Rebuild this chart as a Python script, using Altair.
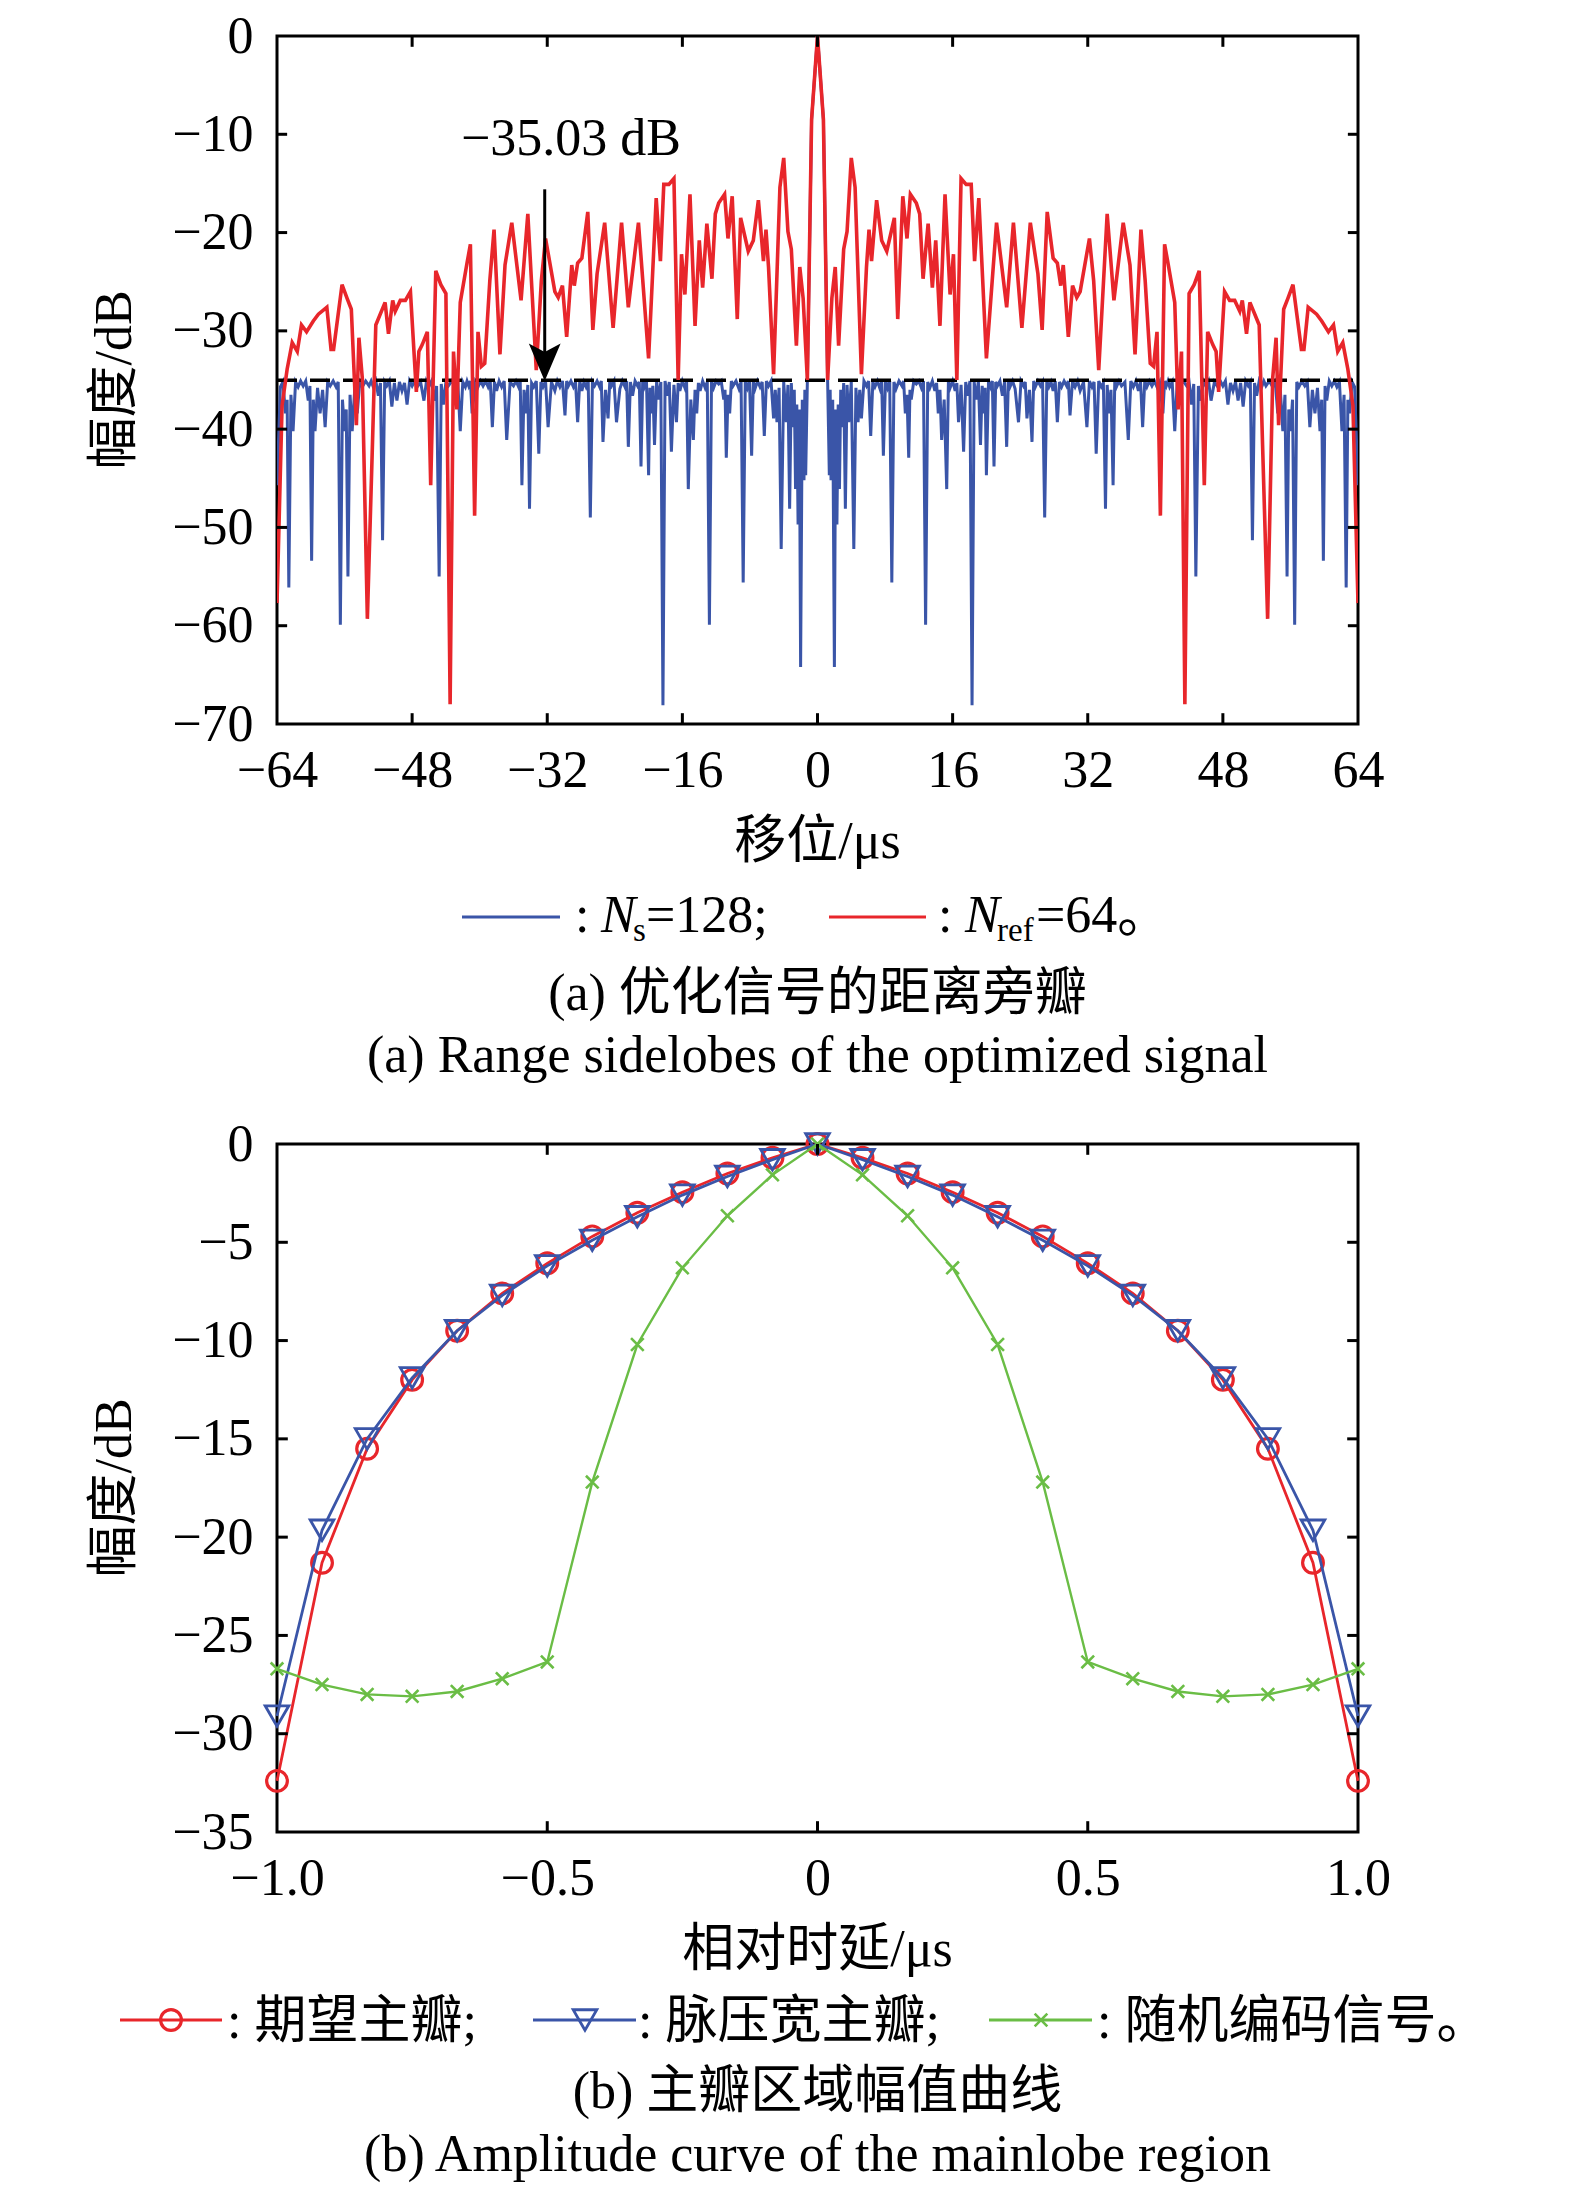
import altair as alt
import pandas as pd

# ---------------- data ----------------
# (a) range sidelobes, right half (symmetric autocorrelation), shift in us, amplitude in dB
red_x = [0, 0.7, 1.2, 1.7, 2.1, 2.5, 3.1, 3.5, 4.0, 4.45,
         5.2, 5.8, 6.1, 6.4, 7.0, 7.6, 8.2, 8.6, 9.1, 9.5,
         10.1, 10.6, 11.0, 11.7, 12.1, 12.5, 13.1, 13.6, 14.0, 14.5,
         15.1, 15.7, 16.1, 16.5, 17.0, 17.6, 18.2, 18.6, 19.1, 20.0,
         21.2, 22.4, 23.2, 24.2, 25.2, 26.1, 26.6, 27.2, 27.9, 28.4,
         28.8, 29.1, 29.7, 30.2, 30.7, 31.1, 32.2, 32.7, 33.3, 34.3,
         35.1, 36.2, 37.0, 37.6, 38.3, 38.8, 39.4, 39.8, 40.2, 40.6,
         41.1, 41.5, 42.3, 42.7, 43.1, 43.5, 44.0, 44.6, 45.2, 45.8,
         46.2, 46.8, 47.2, 47.5, 48.2, 48.8, 49.4, 50.0, 50.3, 50.8,
         51.2, 52.3, 52.7, 53.3, 53.9, 54.3, 54.6, 55.2, 55.7, 56.3,
         57.3, 57.6, 58.1, 59.1, 59.7, 60.5, 61.1, 61.6, 62.2, 62.8,
         63.4, 64.0]
red_y = [0, -8.5, -35.0, -26.7, -23.5, -31.5, -21.7, -19.9, -12.4, -15.4,
         -34.4, -23.5, -19.7, -22.9, -16.7, -20.8, -21.9, -20.4, -18.5, -28.8,
         -16.3, -20.6, -16.1, -17.0, -18.1, -24.7, -19.1, -25.6, -20.8, -29.5,
         -16.1, -26.3, -22.2, -35.0, -14.5, -15.1, -15.1, -22.9, -16.5, -32.8,
         -19.0, -27.6, -19.0, -29.7, -19.0, -24.2, -29.9, -17.9, -22.6, -23.1,
         -25.4, -23.3, -30.6, -25.4, -26.6, -26.0, -20.6, -24.9, -34.0, -18.1,
         -26.9, -19.0, -23.3, -32.4, -19.7, -24.9, -33.3, -33.6, -30.1, -48.8,
         -21.2, -23.1, -27.1, -38.0, -32.1, -68.0, -26.2, -25.3, -23.9, -45.7,
         -30.1, -31.4, -32.1, -36.2, -26.0, -26.9, -26.9, -28.0, -26.9, -30.3,
         -27.1, -29.4, -41.6, -59.3, -34.8, -30.7, -39.6, -27.8, -26.7, -25.3,
         -31.9, -31.9, -27.6, -28.3, -29.0, -30.1, -29.4, -32.1, -31.2, -33.9,
         -37.6, -57.7]

blue_x = [0, 0.7, 1.2, 1.4, 1.5, 1.6, 1.8, 2.0, 2.15, 2.3,
          2.45, 2.6, 2.75, 2.9, 3.1, 3.3, 3.5, 3.7, 4.0, 4.3,
          4.55, 4.8, 5.0, 5.2, 5.5, 5.8, 6.05, 6.3, 6.55, 6.8,
          7.1, 7.4, 7.6, 7.8, 8.05, 8.3, 8.55, 8.8, 9.05, 9.3,
          9.65, 10.0, 10.2, 10.4, 10.6, 10.8, 10.95, 11.1, 11.4, 11.7,
          12.0, 12.3, 12.55, 12.8, 13.05, 13.3, 13.6, 13.9, 14.1, 14.3,
          14.5, 14.7, 15.0, 15.3, 15.5, 15.7, 16.0, 16.3, 16.5, 16.7,
          17.0, 17.3, 17.55, 17.8, 18.05, 18.3, 18.55, 18.8, 19.05, 19.3,
          19.5, 19.7, 19.85, 20.0, 20.25, 20.5, 20.7, 20.9, 21.1, 21.3,
          21.6, 21.9, 22.15, 22.4, 22.6, 22.8, 23.1, 23.4, 23.8, 24.1,
          24.4, 24.6, 24.8, 25.1, 25.4, 25.6, 25.8, 26.1, 26.4, 26.65,
          26.9, 27.15, 27.4, 27.65, 27.9, 28.15, 28.4, 28.65, 28.9, 29.2,
          29.5, 29.7, 29.9, 30.2, 30.5, 30.8, 31.1, 31.5, 31.9, 32.2,
          32.5, 32.75, 33.0, 33.3, 33.6, 33.85, 34.1, 34.3, 34.5, 34.75,
          35.0, 35.2, 35.4, 35.7, 36.0, 36.4, 36.8, 37.1, 37.4, 37.7,
          38.0, 38.25, 38.5, 38.75, 39.0, 39.3, 39.6, 39.9, 40.2, 40.5,
          40.9, 41.1, 41.3, 41.5, 41.7, 42.0, 42.3, 42.6, 42.9, 43.3,
          43.7, 44.0, 44.3, 44.55, 44.8, 45.1, 45.4, 45.7, 46.0, 46.3,
          46.6, 47.0, 47.4, 47.7, 48.0, 48.3, 48.6, 48.9, 49.2, 49.5,
          49.8, 50.1, 50.4, 50.7, 51.0, 51.25, 51.5, 51.75, 52.0, 52.3,
          52.6, 52.85, 53.1, 53.5, 53.9, 54.2, 54.5, 54.8, 55.1, 55.35,
          55.6, 55.8, 56.0, 56.25, 56.5, 56.75, 57.0, 57.35, 57.7, 58.0,
          58.3, 58.6, 58.9, 59.2, 59.5, 59.7, 59.9, 60.1, 60.3, 60.6,
          60.9, 61.2, 61.5, 61.8, 62.1, 62.35, 62.6, 62.8, 63.0, 63.3,
          63.6, 64.0]
blue_y = [0, -8.5, -35.1, -44.7, -36.0, -45.2, -37.0, -64.2, -38.0, -49.7,
          -37.5, -46.1, -36.0, -39.8, -35.3, -48.1, -35.5, -39.3, -35.2, -52.2,
          -35.8, -39.3, -36.0, -38.9, -35.1, -35.6, -35.1, -40.7, -35.2, -35.7,
          -35.1, -35.9, -35.2, -42.7, -35.1, -35.8, -35.1, -55.6, -35.2, -35.9,
          -35.1, -35.6, -35.1, -38.4, -36.5, -42.9, -36.0, -37.0, -35.1, -35.4,
          -35.1, -35.8, -35.1, -59.9, -35.2, -35.8, -35.1, -36.1, -35.3, -38.4,
          -36.0, -41.1, -37.0, -46.1, -35.2, -35.8, -35.1, -36.1, -35.3, -39.3,
          -35.5, -42.3, -35.2, -36.6, -35.1, -68.1, -35.2, -37.0, -35.1, -41.6,
          -35.6, -38.4, -35.8, -44.7, -35.1, -35.7, -35.1, -43.8, -35.2, -35.6,
          -35.1, -36.6, -35.2, -41.8, -35.1, -35.7, -35.1, -35.9, -39.3, -35.1,
          -35.6, -35.2, -38.9, -36.0, -41.3, -35.1, -35.7, -35.1, -35.6, -35.2,
          -49.0, -35.1, -35.7, -35.2, -36.1, -35.1, -39.3, -35.2, -35.7, -35.1,
          -35.6, -35.1, -38.6, -35.1, -35.7, -35.1, -36.1, -35.2, -39.8, -35.1,
          -35.7, -35.2, -42.5, -35.1, -35.7, -35.3, -48.1, -35.5, -38.4, -36.0,
          -45.7, -35.1, -35.7, -35.1, -35.6, -35.2, -41.1, -35.1, -35.7, -35.1,
          -36.1, -35.2, -39.8, -35.1, -35.7, -35.1, -35.6, -35.1, -35.7, -35.2,
          -38.4, -35.1, -35.6, -35.1, -35.7, -35.2, -40.2, -35.1, -35.7, -35.1,
          -35.6, -35.2, -37.5, -35.4, -55.0, -35.6, -37.1, -35.1, -35.6, -35.1,
          -37.1, -35.2, -35.7, -35.1, -35.6, -35.1, -37.5, -35.3, -36.1, -35.2,
          -37.1, -35.3, -37.7, -35.1, -35.6, -35.2, -51.3, -35.3, -36.6, -35.1,
          -35.7, -35.1, -35.6, -35.1, -35.7, -35.2, -38.4, -36.0, -40.2, -36.5,
          -55.0, -38.0, -40.2, -37.0, -59.9, -35.2, -35.7, -35.1, -35.6, -35.2,
          -39.8, -36.0, -38.4, -35.8, -40.2, -37.0, -53.4, -35.6, -37.1, -35.1,
          -35.6, -35.1, -35.7, -35.2, -40.2, -36.5, -56.1, -37.0, -38.4, -35.2,
          -35.7, -45.7]

psl_db = -35.03
x_ticks_a = [-64, -48, -32, -16, 0, 16, 32, 48, 64]
y_ticks_a = [0, -10, -20, -30, -40, -50, -60, -70]

# (b) mainlobe region, left half (symmetric)
b_x_half = [-1.0, -0.9167, -0.8333, -0.75, -0.6667, -0.5833, -0.5,
            -0.4167, -0.3333, -0.25, -0.1667, -0.0833, 0.0]
want_half = [-32.4, -21.3, -15.5, -12.0, -9.5, -7.6, -6.07, -4.7, -3.5, -2.45, -1.5, -0.7, 0.0]
pc_half = [-29.1, -19.65, -15.0, -11.9, -9.5, -7.7, -6.2, -4.9, -3.7, -2.6, -1.65, -0.8, 0.0]
rand_half = [-26.7, -27.5, -28.0, -28.1, -27.85, -27.2, -26.35, -17.2, -10.2, -6.3, -3.65, -1.57, 0.0]
x_ticks_b = [-1.0, -0.5, 0.0, 0.5, 1.0]
y_ticks_b = [0, -5, -10, -15, -20, -25, -30, -35]


def mirror(xs, ys):
    fx = [-v for v in reversed(xs[1:])] + list(xs)
    fy = list(reversed(ys[1:])) + list(ys)
    return fx, fy


def mirror_left(xs, ys):
    fx = list(xs) + [-v for v in reversed(xs[:-1])]
    fy = list(ys) + list(reversed(ys[:-1]))
    return fx, fy


rx, ry = mirror(red_x, red_y)
bx, by = mirror(blue_x, blue_y)
df_red = pd.DataFrame({"x": rx, "y": ry})
df_blue = pd.DataFrame({"x": bx, "y": by})

bxx, wy = mirror_left(b_x_half, want_half)
_, py = mirror_left(b_x_half, pc_half)
_, gy = mirror_left(b_x_half, rand_half)
df_want = pd.DataFrame({"x": bxx, "y": wy})
df_pc = pd.DataFrame({"x": bxx, "y": py})
df_rand = pd.DataFrame({"x": bxx, "y": gy})

# ---------------- style ----------------
W, H = 1081, 688
FONT = "Liberation Serif, Noto Sans CJK SC"
FS = 52
RED = "#E8262B"
BLUE = "#3A55A8"
GREEN = "#6ABD45"
one = pd.DataFrame({"k": [0]})


def T(text, x, y, size=FS, align="center", baseline="middle", style="normal", angle=0):
    return alt.Chart(one).mark_text(
        text=text, fontSize=size, align=align, baseline=baseline,
        fontStyle=style, angle=angle, font=FONT, color="black"
    ).encode(x=alt.value(x), y=alt.value(y))


def hline(x1, x2, y, color):
    return alt.Chart(one).mark_rule(color=color, strokeWidth=3).encode(
        x=alt.value(x1), x2=alt.value(x2), y=alt.value(y))


def inner_ticks(xs_t, ys_t, xdom, ydom, lx, ly):
    xt = [v for v in xs_t if xdom[0] < v < xdom[1]]
    yt = [v for v in ys_t if ydom[0] < v < ydom[1]]
    sx = alt.Scale(domain=xdom, nice=False, zero=False)
    sy = alt.Scale(domain=ydom, nice=False, zero=False)
    d_b = pd.DataFrame({"x": xt, "y": [ydom[0]] * len(xt), "y2": [ydom[0] + ly] * len(xt)})
    d_t = pd.DataFrame({"x": xt, "y": [ydom[1]] * len(xt), "y2": [ydom[1] - ly] * len(xt)})
    d_l = pd.DataFrame({"y": yt, "x": [xdom[0]] * len(yt), "x2": [xdom[0] + lx] * len(yt)})
    d_r = pd.DataFrame({"y": yt, "x": [xdom[1]] * len(yt), "x2": [xdom[1] - lx] * len(yt)})
    layers = []
    for d in (d_b, d_t):
        layers.append(alt.Chart(d).mark_rule(color="black", strokeWidth=3).encode(
            x=alt.X("x:Q", scale=sx), y=alt.Y("y:Q", scale=sy), y2="y2:Q"))
    for d in (d_l, d_r):
        layers.append(alt.Chart(d).mark_rule(color="black", strokeWidth=3).encode(
            y=alt.Y("y:Q", scale=sy), x=alt.X("x:Q", scale=sx), x2="x2:Q"))
    return layers


def axis_x(vals, expr=None):
    kw = dict(values=vals, title=None, labelPadding=21)
    if expr:
        kw["labelExpr"] = expr
    return alt.Axis(**kw)


def axis_y(vals):
    return alt.Axis(values=vals, title=None, labelPadding=24)


# ---------------- (a) ----------------
xa = alt.Scale(domain=[-64, 64], nice=False, zero=False)
ya = alt.Scale(domain=[-70, 0], nice=False, zero=False)

blue_line = alt.Chart(df_blue).mark_line(color=BLUE, strokeWidth=3.0, clip=True).encode(
    x=alt.X("x:Q", scale=xa, axis=axis_x(x_ticks_a)),
    y=alt.Y("y:Q", scale=ya, axis=axis_y(y_ticks_a)),
    order="x:Q")
red_line = alt.Chart(df_red).mark_line(color=RED, strokeWidth=3.6, clip=True).encode(
    x=alt.X("x:Q", scale=xa), y=alt.Y("y:Q", scale=ya), order="x:Q")
dash = alt.Chart(pd.DataFrame({"x": [-64], "x2": [64], "y": [psl_db]})).mark_rule(
    color="black", strokeWidth=3.5, strokeDash=[20, 13]).encode(
    x=alt.X("x:Q", scale=xa), x2="x2:Q", y=alt.Y("y:Q", scale=ya))
arrow_shaft = alt.Chart(pd.DataFrame({"x": [-32.3], "y": [-15.6], "y2": [-33.0]})).mark_rule(
    color="black", strokeWidth=3).encode(
    x=alt.X("x:Q", scale=xa), y=alt.Y("y:Q", scale=ya), y2="y2:Q")
arrow_head = alt.Chart(pd.DataFrame({"x": [-32.3], "y": [-33.2]})).mark_point(
    shape="M-0.85,-1L0,-0.55L0.85,-1L0,1Z", filled=True, color="black", opacity=1, size=1400).encode(
    x=alt.X("x:Q", scale=xa), y=alt.Y("y:Q", scale=ya))
ann = alt.Chart(pd.DataFrame({"x": [-29.2], "y": [-10.5], "t": ["\u221235.03 dB"]})).mark_text(
    font=FONT, fontSize=FS, color="black", baseline="middle", align="center").encode(
    x=alt.X("x:Q", scale=xa), y=alt.Y("y:Q", scale=ya), text="t:N")

ticks_a = inner_ticks(x_ticks_a, y_ticks_a, [-64, 64], [-70, 0], 1.2, 1.1)

texts_a = [
    T("幅度/dB", -162, H / 2, angle=270),
    T("移位/μs", W / 2, 806),
    hline(185, 283, 881, BLUE),
    T(":", 298, 896, align="left", baseline="alphabetic"),
    T("N", 324, 896, align="left", baseline="alphabetic", style="italic"),
    T("s", 356, 905, size=33, align="left", baseline="alphabetic"),
    T("=128;", 369, 896, align="left", baseline="alphabetic"),
    hline(552, 649, 881, RED),
    T(":", 661, 896, align="left", baseline="alphabetic"),
    T("N", 688, 896, align="left", baseline="alphabetic", style="italic"),
    T("ref", 720, 905, size=33, align="left", baseline="alphabetic"),
    T("=64。", 759, 896, align="left", baseline="alphabetic"),
    T("(a) 优化信号的距离旁瓣", W / 2, 958),
    T("(a) Range sidelobes of the optimized signal", W / 2, 1020),
]

chart_a = alt.layer(blue_line, dash, red_line, arrow_shaft, arrow_head, ann,
                    *ticks_a, *texts_a).properties(width=W, height=H)

# ---------------- (b) ----------------
xb = alt.Scale(domain=[-1, 1], nice=False, zero=False)
yb = alt.Scale(domain=[-35, 0], nice=False, zero=False)
x_expr = "datum.value == 0 ? '0' : format(datum.value, '.1f')"

CROSS = "M-1,-1L1,1M-1,1L1,-1"

want_line = alt.Chart(df_want).mark_line(color=RED, strokeWidth=2.8).encode(
    x=alt.X("x:Q", scale=xb, axis=axis_x(x_ticks_b, x_expr)),
    y=alt.Y("y:Q", scale=yb, axis=axis_y(y_ticks_b)), order="x:Q")
want_pts = alt.Chart(df_want).mark_point(shape="circle", filled=False, color=RED,
                                          strokeWidth=3.2, size=430, opacity=1).encode(
    x=alt.X("x:Q", scale=xb), y=alt.Y("y:Q", scale=yb))
pc_line = alt.Chart(df_pc).mark_line(color=BLUE, strokeWidth=2.8).encode(
    x=alt.X("x:Q", scale=xb), y=alt.Y("y:Q", scale=yb), order="x:Q")
pc_pts = alt.Chart(df_pc).mark_point(shape="triangle-down", filled=False, color=BLUE,
                                      strokeWidth=2.8, size=560, opacity=1).encode(
    x=alt.X("x:Q", scale=xb), y=alt.Y("y:Q", scale=yb))
rand_line = alt.Chart(df_rand).mark_line(color=GREEN, strokeWidth=2.4).encode(
    x=alt.X("x:Q", scale=xb), y=alt.Y("y:Q", scale=yb), order="x:Q")
rand_pts = alt.Chart(df_rand).mark_point(shape=CROSS, filled=False, color=GREEN,
                                          strokeWidth=2.6, size=160, opacity=1).encode(
    x=alt.X("x:Q", scale=xb), y=alt.Y("y:Q", scale=yb))

ticks_b = inner_ticks(x_ticks_b, y_ticks_b, [-1, 1], [-35, 0], 0.02, 0.55)


def mk(shape, x, y, color, size, sw, filled=False):
    return alt.Chart(one).mark_point(shape=shape, filled=filled, color=color, size=size,
                                     strokeWidth=sw, opacity=1).encode(
        x=alt.value(x), y=alt.value(y))


texts_b = [
    T("幅度/dB", -162, H / 2, angle=270),
    T("相对时延/μs", W / 2, 806),
    hline(-157, -55, 876, RED),
    mk("circle", -106, 876, RED, 430, 3.2),
    T(": 期望主瓣;", -50, 878, align="left"),
    hline(256, 359, 876, BLUE),
    mk("triangle-down", 308, 876, BLUE, 560, 2.8),
    T(": 脉压宽主瓣;", 361, 878, align="left"),
    hline(712, 815, 876, GREEN),
    mk(CROSS, 764, 876, GREEN, 160, 2.6),
    T(": 随机编码信号。", 820, 878, align="left"),
    T("(b) 主瓣区域幅值曲线", W / 2, 948),
    T("(b) Amplitude curve of the mainlobe region", W / 2, 1011),
]

chart_b = alt.layer(want_line, want_pts, pc_line, pc_pts, rand_line, rand_pts,
                    *ticks_b, *texts_b).properties(width=W, height=H)

chart = alt.VConcatChart(vconcat=[chart_a, chart_b], spacing=420, bounds="flush").properties(
    padding={"left": 79, "top": 0, "right": 10, "bottom": 0},
    background="white",
).configure_view(stroke="black", strokeWidth=3).configure_concat(spacing=420).configure_axis(
    ticks=False, domain=False, grid=False, labelFont=FONT, labelFontSize=FS,
    labelColor="black", labelFlush=False, labelOverlap=False, title=None
)

chart.save("out.html", embed_options={"renderer": "svg", "actions": False})
